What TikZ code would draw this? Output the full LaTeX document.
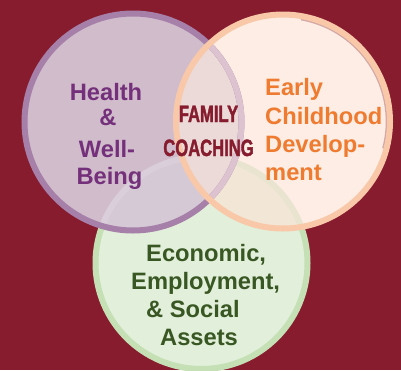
\documentclass[tikz,border=0pt]{standalone}
\usepackage{fontspec}
\setmainfont{Liberation Sans}
\newfontfamily\condfont{Liberation Sans}[BoldFeatures={FakeBold=1.6,FakeStretch=0.7}]
\definecolor{bgc}{HTML}{871C2F}
\definecolor{pfill}{HTML}{D0BCCB}
\definecolor{pgfillc}{HTML}{D6C9D6}
\definecolor{pofill}{HTML}{EBDAD8}
\definecolor{ofill}{HTML}{FDEDE4}
\definecolor{gfill}{HTML}{E2EFDA}
\definecolor{ogfill}{HTML}{F2E7D6}
\definecolor{pring}{HTML}{A680A9}
\definecolor{pringin}{HTML}{DCC3CF}
\definecolor{oring}{HTML}{F8C8A8}
\definecolor{gring}{HTML}{C5E0B4}
\definecolor{gringp}{HTML}{D9CEDA}
\definecolor{gringo}{HTML}{E9E4D0}
\definecolor{oshadow}{HTML}{D4A8A6}
\definecolor{ptext}{HTML}{74307A}
\definecolor{otext}{HTML}{EE7B30}
\definecolor{gtext}{HTML}{385723}
\tikzset{
  lbl/.style={font=\fontsize{23.7}{28}\selectfont\bfseries, inner sep=0pt},
  plbl/.style={lbl, text=ptext, anchor=base},
  olbl/.style={lbl, text=otext, anchor=base west},
  glbl/.style={lbl, text=gtext, anchor=base west},
  clbl/.style={font=\condfont\fontsize{23.7}{28}\selectfont\bfseries, inner sep=0pt, text=bgc, anchor=base},
  ringw/.style={line width=6pt}
}
\begin{document}
\begin{tikzpicture}[x=1pt,y=-1pt]
\useasboundingbox (0,0) rectangle (401,370);
\fill[bgc] (0,0) rectangle (401,370);
% centers
\coordinate (P) at (133,122);
\coordinate (O) at (283,121.5);
\coordinate (G) at (201.5,263);
\def\rP{108.5}
\def\rO{107}
\def\rG{106}
% base fills
\fill[gfill] (G) circle (\rG);
\draw[gring,ringw] (G) circle (\rG);
\fill[pfill] (P) circle (\rP);
\fill[ofill] (O) circle (\rO);
% O with G
\begin{scope}
  \clip (O) circle (\rO);
  \fill[ogfill] (G) circle (\rG);
  \draw[gringo,ringw] (G) circle (\rG);
\end{scope}
% P overlaps
\begin{scope}
  \clip (P) circle (\rP);
  \fill[pgfillc] (G) circle (\rG);
  \draw[gringp,ringw] (G) circle (\rG);
  \clip (O) circle (\rO);
  \fill[pofill] (O) circle (\rO);
\end{scope}
% purple ring
\draw[pring,ringw] (P) circle (\rP);
\begin{scope}
  \clip (O) circle (\rO-3);
  \draw[pringin,ringw] (P) circle (\rP);
\end{scope}
% orange ring with shadow
\draw[oshadow,line width=1.6pt] (O) ++(15:{\rO-3.5}) arc[start angle=15,end angle=-80,radius={\rO-3.5}];
\draw[oring,ringw] (O) circle (\rO);
% texts
\node[plbl] (h1) at (106,100) {Health};
\node[plbl] (h2) at (108,125.5) {\&};
\node[plbl] (h3) at (107,157) {Well-};
\node[plbl] (h4) at (109.5,184) {Being};
\node[olbl] (e1) at (265,95) {Early};
\node[olbl] (e2) at (265,124) {Childhood};
\node[olbl] (e3) at (265,152) {Develop-};
\node[olbl] (e4) at (265,180) {ment};
\node[glbl] (g1) at (146,261) {Economic,};
\node[glbl] (g2) at (131,289) {Employment,};
\node[glbl] (g3) at (146,317) {\& Social};
\node[glbl] (g4) at (160,345) {Assets};
\node[clbl] (c1) at (208.5,122) {FAMILY};
\node[clbl] (c2) at (208.5,156) {COACHING};
\end{tikzpicture}
\end{document}
